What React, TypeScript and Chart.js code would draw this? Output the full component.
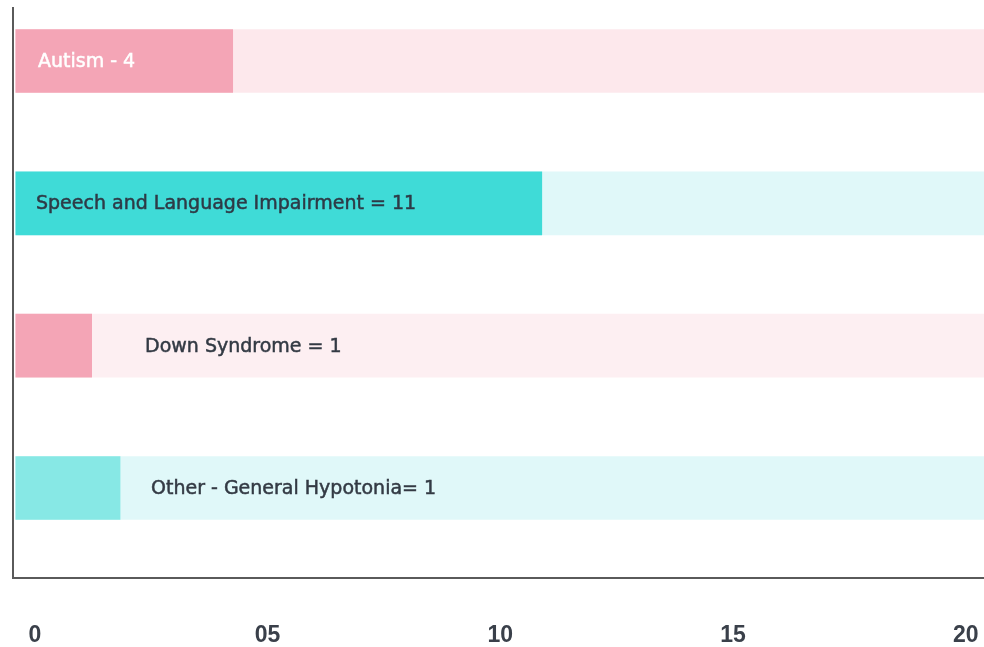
import React, { useEffect, useRef } from "react";
import { Chart, registerables } from "chart.js";

Chart.register(...registerables);

// ---- data ----
const categories = ["Autism", "Speech and Language Impairment", "Down Syndrome", "Other - General Hypotonia"];
const counts = [4, 11, 1, 1];
const labelTexts = ["Autism - 4", "Speech and Language Impairment = 11", "Down Syndrome = 1", "Other - General Hypotonia= 1"];
const barEnds = [4.25, 10.89, 1.22, 1.83];
const tickValues = [0, 5, 10, 15, 20];
const tickLabels = ["0", "05", "10", "15", "20"];

// ---- layout / style ----
const X_MIN = -0.47;
const X_MAX = 20.39;
const BAR_BASE = -0.41;
const Y_MIN = -0.372;
const Y_MAX = 3.632;
const LABEL_INSET = [25, 23, 132, 138];
const FG_COLORS = ["#F4A5B6", "#3FDBD7", "#F4A5B6", "#87E8E5"];
const TRACK_COLORS = ["#FDE8EC", "#E0F8F9", "#FDEFF2", "#E0F8F9"];
const TEXT_COLORS = ["#FFFFFF", "#2E3A46", "#333A44", "#333A44"];
const AXIS_COLOR = "#5A5A5A";

const labelPlugin = {
  id: "barLabels",
  afterDatasetsDraw(chart: any) {
    const ctx = chart.ctx;
    const meta = chart.getDatasetMeta(0);
    ctx.save();
    ctx.font = "19px 'DejaVu Sans'";
    ctx.textBaseline = "middle";
    ctx.textAlign = "left";
    ctx.lineWidth = 0.5;
    meta.data.forEach((el: any, i: number) => {
      ctx.fillStyle = TEXT_COLORS[i];
      ctx.strokeStyle = TEXT_COLORS[i];
      const x = chart.chartArea.left + LABEL_INSET[i];
      ctx.fillText(labelTexts[i], x, el.y + 1);
      ctx.strokeText(labelTexts[i], x, el.y + 1);
    });
    ctx.restore();
  },
};

const zeroPad = (scale: any) => {
  scale.paddingLeft = 0;
  scale.paddingRight = 0;
  scale.paddingTop = 0;
  scale.paddingBottom = 0;
};

export default function App() {
  const ref = useRef<HTMLCanvasElement | null>(null);
  useEffect(() => {
    if (!ref.current) return;
    const chart = new Chart(ref.current, {
      type: "bar",
      data: {
        datasets: [
          {
            label: "Count",
            data: barEnds.map((v, i) => ({ x: [BAR_BASE, v], y: i })) as any,
            backgroundColor: FG_COLORS,
            barThickness: 63,
            grouped: false,
            order: 0,
          },
          {
            label: "Track",
            data: categories.map((_, i) => ({ x: [BAR_BASE, X_MAX], y: i })) as any,
            backgroundColor: TRACK_COLORS,
            barThickness: 63,
            grouped: false,
            order: 1,
          },
        ],
      },
      options: {
        indexAxis: "y",
        responsive: false,
        animation: false,
        events: [],
        layout: { padding: { top: 8, left: 0, right: 0, bottom: 0 } },
        plugins: { legend: { display: false }, tooltip: { enabled: false } },
        scales: {
          x: {
            type: "linear",
            min: X_MIN,
            max: X_MAX,
            offset: false,
            grid: { display: false, drawTicks: false },
            border: { display: true, color: AXIS_COLOR, width: 2 },
            afterBuildTicks: (scale: any) => {
              scale.ticks = tickValues.map((v) => ({ value: v }));
            },
            afterFit: (scale: any) => {
              scale.height = 69;
              zeroPad(scale);
            },
            ticks: {
              autoSkip: false,
              maxRotation: 0,
              padding: 44,
              color: "#3A404A",
              font: { family: "'Liberation Sans'", size: 23, weight: "bold" },
              callback: (v: any) => {
                const idx = tickValues.indexOf(Number(v));
                return idx >= 0 ? tickLabels[idx] : "";
              },
            },
          },
          y: {
            type: "linear",
            reverse: true,
            offset: false,
            min: Y_MIN,
            max: Y_MAX,
            grid: { display: false, drawTicks: false, offset: false },
            border: { display: true, color: AXIS_COLOR, width: 2 },
            ticks: { display: false },
            afterFit: (scale: any) => {
              scale.width = 13;
              zeroPad(scale);
            },
          },
        },
      },
      plugins: [labelPlugin],
    });
    return () => chart.destroy();
  }, []);
  return (
    <div style={{ position: "fixed", left: 0, top: 0, width: 984, height: 647, background: "#fff" }}>
      <canvas ref={ref} width={984} height={647} style={{ width: 984, height: 647, display: "block" }} />
    </div>
  );
}
